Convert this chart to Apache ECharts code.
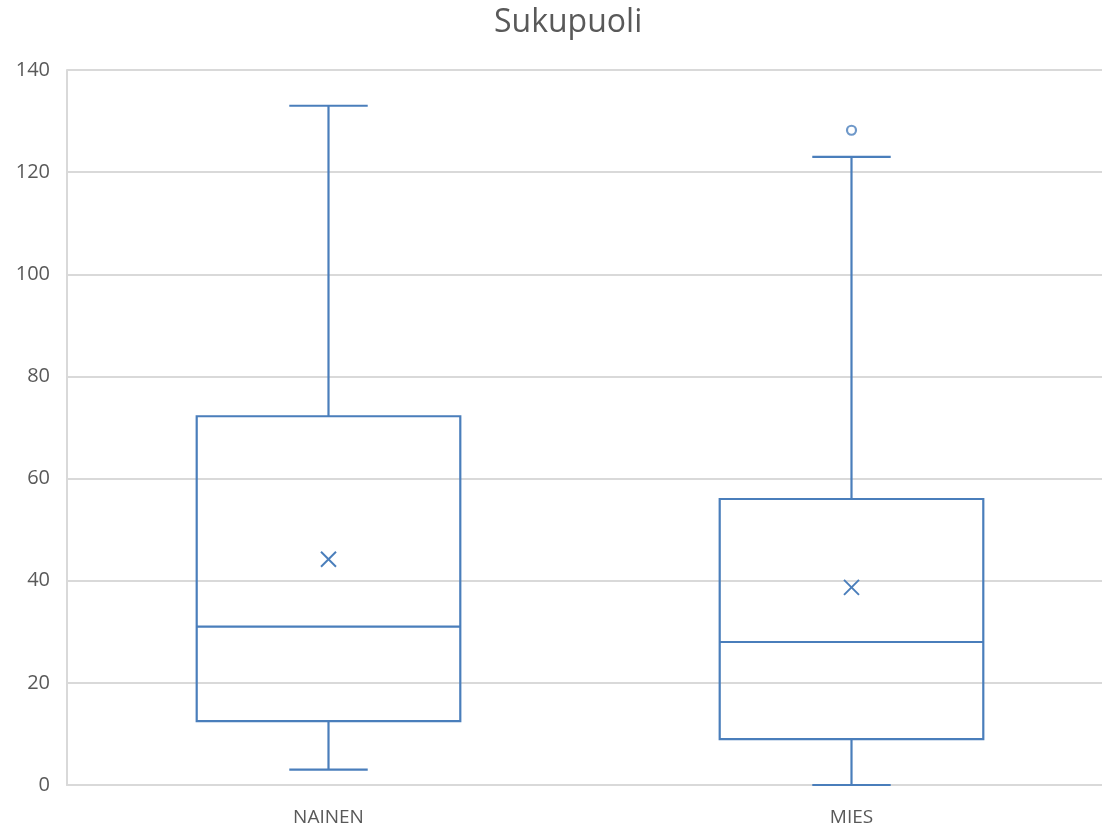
<!DOCTYPE html>
<html>
<head>
<meta charset="utf-8">
<style>
  html, body { margin: 0; padding: 0; background: #fff; }
  #chart { width: 1102px; height: 829px; }
</style>
<script src="https://cdn.jsdelivr.net/npm/echarts@6/dist/echarts.min.js"></script>
</head>
<body>
<div id="chart"></div>
<script>
// Box plot summary per gender group
const categories = ['NAINEN', 'MIES'];
const mins    = [3, 0];
const q1s     = [12.5, 9];
const medians = [31, 28];
const q3s     = [72.2, 56];
const maxs    = [133, 123];
const means   = [44.2, 38.7];
// Outlier points: [category index, value]
const outliers = [[1, 128.2]];
const yTicks = { min: 0, max: 140, interval: 20 };

const BLUE = '#4a7ebb';
const GRID_GRAY = '#d9d9d9';
const TEXT_GRAY = '#595959';
const FONT = '"Open Sans", "Noto Sans", sans-serif';

const boxData = categories.map((c, i) => [i, mins[i], q1s[i], medians[i], q3s[i], maxs[i]]);
const meanData = categories.map((c, i) => [i, means[i]]);

function renderBox(params, api) {
  const idx = api.value(0);
  const band = api.size([1, 0])[0];
  const halfBox = band * 0.252;
  const halfCap = band * 0.075;
  const pMin = api.coord([idx, api.value(1)]);
  const pQ1 = api.coord([idx, api.value(2)]);
  const pMed = api.coord([idx, api.value(3)]);
  const pQ3 = api.coord([idx, api.value(4)]);
  const pMax = api.coord([idx, api.value(5)]);
  const x = pMin[0];
  const style = { stroke: BLUE, lineWidth: 2.2, fill: null };
  return {
    type: 'group',
    children: [
      { type: 'line', shape: { x1: x, y1: pMax[1], x2: x, y2: pQ3[1] }, style },
      { type: 'line', shape: { x1: x - halfCap, y1: pMax[1], x2: x + halfCap, y2: pMax[1] }, style },
      { type: 'line', shape: { x1: x, y1: pQ1[1], x2: x, y2: pMin[1] }, style },
      { type: 'line', shape: { x1: x - halfCap, y1: pMin[1], x2: x + halfCap, y2: pMin[1] }, style },
      { type: 'rect', shape: { x: x - halfBox, y: pQ3[1], width: halfBox * 2, height: pQ1[1] - pQ3[1] }, style },
      { type: 'line', shape: { x1: x - halfBox, y1: pMed[1], x2: x + halfBox, y2: pMed[1] }, style }
    ]
  };
}

function renderMean(params, api) {
  const p = api.coord([api.value(0), api.value(1)]);
  const r = 7.5;
  const style = { stroke: BLUE, lineWidth: 2 };
  return {
    type: 'group',
    children: [
      { type: 'line', shape: { x1: p[0] - r, y1: p[1] - r, x2: p[0] + r, y2: p[1] + r }, style },
      { type: 'line', shape: { x1: p[0] - r, y1: p[1] + r, x2: p[0] + r, y2: p[1] - r }, style }
    ]
  };
}

const chart = echarts.init(document.getElementById('chart'), null, { renderer: 'canvas' });
chart.setOption({
  backgroundColor: '#fff',
  animation: false,
  title: {
    text: 'Sukupuoli',
    left: 489,
    top: 2,
    textStyle: { fontFamily: FONT, fontSize: 32, fontWeight: 'normal', color: TEXT_GRAY }
  },
  grid: { left: 67, right: -11, top: 70, bottom: 44, containLabel: false, outerBoundsMode: 'none' },
  xAxis: {
    type: 'category',
    data: categories,
    axisLine: { show: true, lineStyle: { color: GRID_GRAY, width: 2 } },
    axisTick: { show: false },
    axisLabel: { fontFamily: FONT, fontSize: 19, color: TEXT_GRAY, margin: 23 },
    splitLine: { show: false }
  },
  yAxis: {
    type: 'value',
    min: yTicks.min,
    max: yTicks.max,
    interval: yTicks.interval,
    axisLine: { show: true, lineStyle: { color: GRID_GRAY, width: 2 } },
    axisTick: { show: false },
    axisLabel: { fontFamily: FONT, fontSize: 20, color: TEXT_GRAY, margin: 17 },
    splitLine: { show: true, lineStyle: { color: GRID_GRAY, width: 2 } }
  },
  series: [
    { type: 'custom', renderItem: renderBox, data: boxData, encode: { x: 0, y: [1, 2, 3, 4, 5] }, z: 3 },
    { type: 'custom', renderItem: renderMean, data: meanData, encode: { x: 0, y: 1 }, z: 3 },
    {
      type: 'scatter',
      data: outliers,
      symbol: 'circle',
      symbolSize: 9,
      itemStyle: { color: '#fff', borderColor: BLUE, borderWidth: 2.2 },
      z: 4
    }
  ]
});
</script>
</body>
</html>
